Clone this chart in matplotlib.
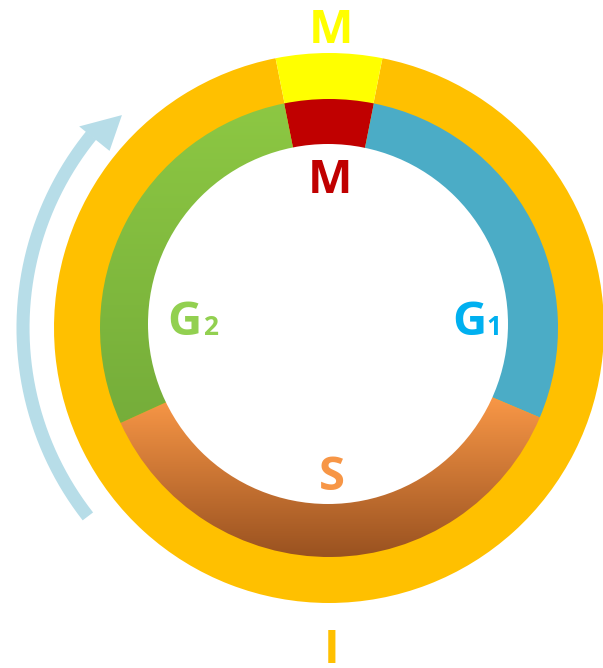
import numpy as np
import matplotlib.pyplot as plt
from matplotlib.patches import Wedge, Circle, Polygon
from matplotlib.colors import LinearSegmentedColormap

# cell cycle phases (inner ring), angles in degrees, counterclockwise from 3 o'clock
phases = ["M", "G1", "S", "G2"]
phase_theta1 = [78.7, -23.0, 204.5, 101.3]
phase_theta2 = [101.3, 78.7, 337.0, 204.5]
phase_colors = ["#C00000", "#4BACC6", None, None]

# outer ring: interphase (I) and mitosis (M)
outer_names = ["I", "M"]
outer_theta1 = [101.2, 78.8]
outer_theta2 = [438.8, 101.2]
outer_colors = ["#FFC000", "#FFFF00"]

W, H = 603, 668
cx, cy = 329, H - 328        # centre in pixel coords (y up)
r_outer, r_ring, r_hole = 275, 229, 180

fig = plt.figure(figsize=(W / 100, H / 100), dpi=100)
ax = fig.add_axes([0, 0, 1, 1])
ax.set_xlim(0, W)
ax.set_ylim(0, H)
ax.set_aspect("equal")
ax.axis("off")

# outer ring
for name, t1, t2, c in zip(outer_names, outer_theta1, outer_theta2, outer_colors):
    ax.add_patch(Wedge((cx, cy), r_outer, t1, t2, facecolor=c, edgecolor="none"))

# inner ring segments
grad = {
    "S": ("#F79646", "#9A5220", H - 400, H - 557),
    "G2": ("#8DC843", "#76AE3A", H - 97, H - 415),
}
for name, t1, t2, c in zip(phases, phase_theta1, phase_theta2, phase_colors):
    w = Wedge((cx, cy), r_ring, t1, t2, facecolor=c if c else "none", edgecolor="none")
    ax.add_patch(w)
    if name in grad:
        ctop, cbot, ytop, ybot = grad[name]
        cmap = LinearSegmentedColormap.from_list(name, [cbot, ctop])
        g = np.linspace(0, 1, 256).reshape(-1, 1)
        g = np.clip((np.linspace(cy - r_ring, cy + r_ring, 512) - ybot) / (ytop - ybot), 0, 1).reshape(-1, 1)
        im = ax.imshow(g, cmap=cmap, origin="lower", aspect="auto", vmin=0, vmax=1,
                       extent=[cx - r_ring, cx + r_ring, cy - r_ring, cy + r_ring], zorder=1)
        im.set_clip_path(w)

ax.add_patch(Circle((cx - 1, H - 324), r_hole, facecolor="white", edgecolor="none", zorder=2))

# arrow around the left side
r_arr = 306
th = np.radians(np.linspace(218, 141, 200))
ax.plot(cx + r_arr * np.cos(th), cy + r_arr * np.sin(th), color="#B7DDE8",
        lw=9.4, solid_capstyle="butt", zorder=3)
tip = np.radians(134.2)
base = np.radians(141.1)
head = [(cx + 297 * np.cos(tip), cy + 297 * np.sin(tip)),
        (cx + 321 * np.cos(base), cy + 321 * np.sin(base)),
        (cx + 282 * np.cos(base), cy + 282 * np.sin(base))]
ax.add_patch(Polygon(head, closed=True, facecolor="#B7DDE8", edgecolor="none", zorder=3))

font = dict(family="Open Sans", fontweight="bold", ha="center", va="baseline", zorder=4)
ax.text(331, H - 43, "M", color="#FFFF00", fontsize=34, **font)
ax.text(330, H - 193, "M", color="#C00000", fontsize=34, **font)
ax.text(184.5, H - 335, "G", color="#92D050", fontsize=34, **font)
ax.text(211, H - 335, "2", color="#92D050", fontsize=19, **font)
ax.text(469, H - 335, "G", color="#00B0F0", fontsize=34, **font)
ax.text(494, H - 335, "1", color="#00B0F0", fontsize=19, **font)
ax.text(331.5, H - 490, "S", color="#F79646", fontsize=34, **font)
ax.text(331.5, H - 663, "I", color="#FFC000", fontsize=34, **font)

fig.savefig("out.png", dpi=100)
